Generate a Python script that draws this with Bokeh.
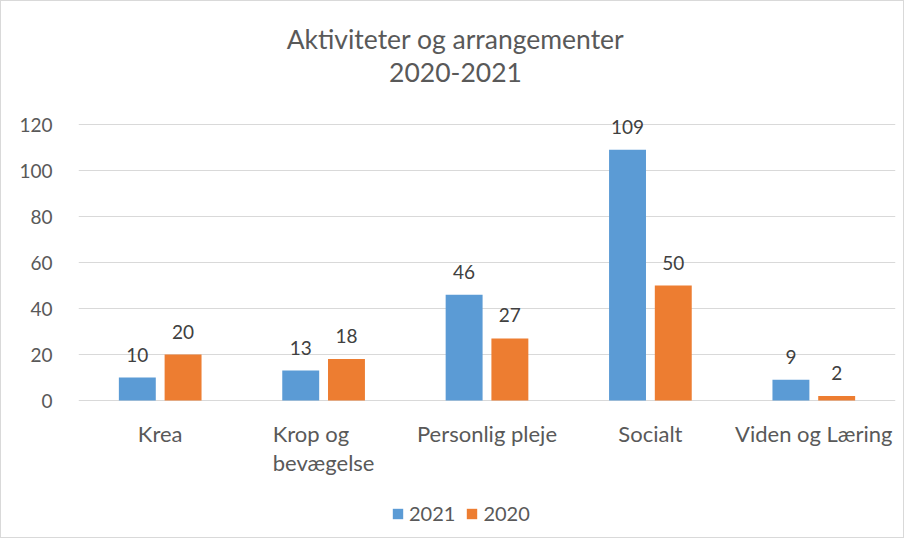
from bokeh.plotting import figure
from bokeh.models import ColumnDataSource, FactorRange, Range1d, LabelSet, Label, Legend, LegendItem, FixedTicker
from bokeh.core.properties import value
from bokeh.transform import dodge
from bokeh.embed import file_html
from bokeh.resources import INLINE

categories = ["Krea", "Krop og bevægelse", "Personlig pleje", "Socialt", "Viden og Læring"]
category_labels = ["Krea", "Krop og\nbevægelse", "Personlig pleje", "Socialt", "Viden og Læring"]
values_2021 = [10, 13, 46, 109, 9]
values_2020 = [20, 18, 27, 50, 2]
series_names = ["2021", "2020"]
y_ticks = [0, 20, 40, 60, 80, 100, 120]
title_lines = ["Aktiviteter og arrangementer", "2020-2021"]

FONT = "Lato"
TXT = "#595959"
BLUE = "#5B9BD5"
ORANGE = "#ED7D31"
GRID = "#D9D9D9"

src = ColumnDataSource(dict(
    cat=categories,
    catlab=category_labels,
    zero=[0] * len(categories),
    v21=values_2021,
    v20=values_2020,
    l21=[str(v) for v in values_2021],
    l20=[str(v) for v in values_2020],
))

# frame spans whole canvas height; 2.3 px per unit, value 0 at 399 px from top
p = figure(width=904, height=538, x_range=FactorRange(*categories, range_padding=0),
           y_range=Range1d(-60.43, 173.48), output_backend="svg", toolbar_location=None,
           min_border_left=77, min_border_right=10, min_border_top=0, min_border_bottom=0)
p.styles = {"border": "1px solid #D9D9D9"}
p.outline_line_color = None
p.background_fill_color = "white"
p.border_fill_color = "white"
p.xaxis.visible = False

r21 = p.vbar(x=dodge("cat", -0.14, range=p.x_range), top="v21", width=0.226, source=src,
             color=BLUE, line_color=None)
r20 = p.vbar(x=dodge("cat", 0.14, range=p.x_range), top="v20", width=0.226, source=src,
             color=ORANGE, line_color=None)

for col, lab, off in [("v21", "l21", -0.14), ("v20", "l20", 0.14)]:
    p.add_layout(LabelSet(x=dodge("cat", off, range=p.x_range), y=col, text=lab, source=src,
                          text_align="center", text_baseline="bottom", y_offset=16,
                          text_font=value(FONT), text_font_size="19px", text_color="#404040"))

# category labels below the axis
p.add_layout(LabelSet(x="cat", y="zero", text="catlab", source=src, text_align="center",
                      text_baseline="top", y_offset=-19, text_line_height=1.08,
                      text_font=value(FONT), text_font_size="22px", text_color=TXT))

# title
for i, t in enumerate(title_lines):
    p.add_layout(Label(x=2.307, y=157.0 - i * 14.35, text=t, text_align="center",
                       text_baseline="middle", text_font=FONT, text_font_size="26.5px",
                       text_color=TXT))

p.ygrid.grid_line_color = GRID
p.xgrid.grid_line_color = None
p.yaxis.ticker = FixedTicker(ticks=y_ticks)
p.yaxis.axis_line_color = None
p.yaxis.major_tick_line_color = None
p.yaxis.minor_tick_line_color = None
p.yaxis.major_label_standoff = 20
p.yaxis.major_label_text_font = FONT
p.yaxis.major_label_text_font_size = "19px"
p.yaxis.major_label_text_color = TXT

legend = Legend(items=[LegendItem(label=series_names[0], renderers=[r21]),
                       LegendItem(label=series_names[1], renderers=[r20])],
                orientation="horizontal", location=(313, 14),
                border_line_color=None, background_fill_alpha=0,
                glyph_width=13, glyph_height=13, spacing=10, label_standoff=5,
                label_text_font=FONT, label_text_font_size="20px", label_text_color=TXT,
                margin=0, padding=0)
p.add_layout(legend, "center")

open("out.html", "w").write(file_html(p, INLINE))
